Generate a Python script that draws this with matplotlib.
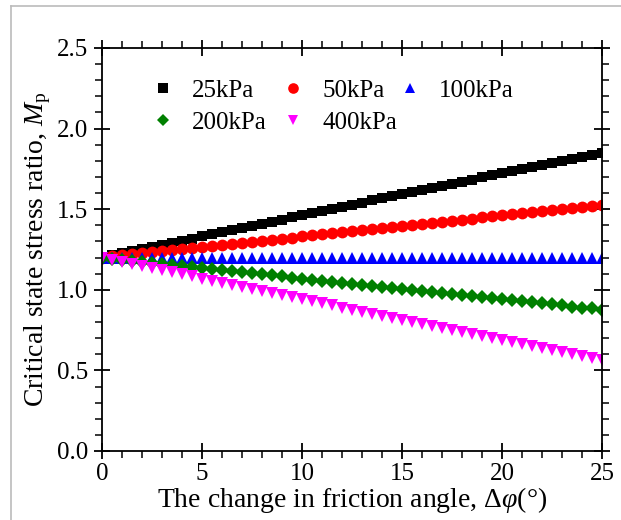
import matplotlib
matplotlib.use("Agg")
import matplotlib.pyplot as plt
from matplotlib.lines import Line2D
from matplotlib.ticker import MultipleLocator

plt.rcParams['font.family'] = ['Liberation Serif', 'DejaVu Serif']
plt.rcParams['mathtext.fontset'] = 'custom'
plt.rcParams['mathtext.rm'] = 'Liberation Serif'
plt.rcParams['mathtext.it'] = 'Liberation Serif:italic'

delta_phi = [i * 0.5 for i in range(51)]

m_25kpa = [1.200, 1.213, 1.226, 1.239, 1.252, 1.265, 1.278, 1.292, 1.305, 1.318,
           1.331, 1.344, 1.357, 1.370, 1.383, 1.396, 1.410, 1.423, 1.436, 1.449,
           1.462, 1.475, 1.488, 1.501, 1.514, 1.527, 1.541, 1.554, 1.567, 1.580,
           1.593, 1.606, 1.619, 1.632, 1.645, 1.658, 1.671, 1.684, 1.697, 1.710,
           1.722, 1.735, 1.748, 1.761, 1.774, 1.787, 1.799, 1.812, 1.825, 1.838,
           1.850]
m_50kpa = [1.200, 1.207, 1.213, 1.220, 1.226, 1.233, 1.239, 1.246, 1.252, 1.259,
           1.265, 1.272, 1.278, 1.285, 1.291, 1.298, 1.305, 1.311, 1.318, 1.324,
           1.331, 1.338, 1.344, 1.351, 1.357, 1.364, 1.370, 1.377, 1.383, 1.390,
           1.396, 1.403, 1.410, 1.416, 1.423, 1.429, 1.436, 1.442, 1.449, 1.455,
           1.462, 1.469, 1.475, 1.482, 1.488, 1.495, 1.501, 1.508, 1.514, 1.521,
           1.527]
m_100kpa = [1.200] * 51
m_200kpa = [1.200, 1.193, 1.187, 1.180, 1.174, 1.167, 1.161, 1.154, 1.148, 1.141,
            1.135, 1.128, 1.122, 1.115, 1.109, 1.102, 1.096, 1.089, 1.083, 1.076,
            1.070, 1.063, 1.057, 1.051, 1.044, 1.038, 1.031, 1.025, 1.018, 1.012,
            1.005, 0.999, 0.992, 0.986, 0.980, 0.973, 0.967, 0.960, 0.954, 0.947,
            0.941, 0.935, 0.928, 0.922, 0.916, 0.909, 0.903, 0.896, 0.890, 0.884,
            0.877]
m_400kpa = [1.200, 1.187, 1.174, 1.161, 1.148, 1.135, 1.122, 1.109, 1.096, 1.083,
            1.070, 1.057, 1.044, 1.031, 1.018, 1.005, 0.992, 0.980, 0.967, 0.954,
            0.941, 0.928, 0.916, 0.903, 0.890, 0.877, 0.865, 0.852, 0.839, 0.827,
            0.814, 0.801, 0.789, 0.776, 0.764, 0.751, 0.739, 0.726, 0.714, 0.701,
            0.689, 0.677, 0.664, 0.652, 0.640, 0.627, 0.615, 0.603, 0.591, 0.579,
            0.567]

labels = ['25kPa', '50kPa', '100kPa', '200kPa', '400kPa']
series = [m_25kpa, m_50kpa, m_100kpa, m_200kpa, m_400kpa]
colors = ['black', 'red', 'blue', 'green', 'magenta']
markers = ['s', 'o', '^', 'D', 'v']
msizes = [7.5, 8.5, 8.5, 7, 8.5]

fig = plt.figure(figsize=(6.21, 5.20), dpi=100)
ax = fig.add_axes([0.1643, 0.1327, 0.8051, 0.7750])

handles = []
for y, lab, c, mk, ms in zip(series, labels, colors, markers, msizes):
    h, = ax.plot(delta_phi, y, linestyle='none', marker=mk, color=c,
                 markersize=ms, markeredgewidth=0, label=lab)
    handles.append(h)

ax.set_xlim(0, 25)
ax.set_ylim(0, 2.5)
ax.xaxis.set_major_locator(MultipleLocator(5))
ax.xaxis.set_minor_locator(MultipleLocator(1))
ax.yaxis.set_major_locator(MultipleLocator(0.5))
ax.yaxis.set_minor_locator(MultipleLocator(0.1))
ax.set_yticks([0, 0.5, 1.0, 1.5, 2.0, 2.5])
ax.set_yticklabels(['0.0', '0.5', '1.0', '1.5', '2.0', '2.5'])

ax.tick_params(which='major', direction='inout', length=12, width=1.3,
               top=True, right=True, labelsize=18)
ax.tick_params(axis='x', which='major', pad=3)
ax.tick_params(axis='y', which='major', pad=4)
ax.tick_params(which='minor', direction='out', length=5, width=1.1,
               top=True, right=True)
for s in ax.spines.values():
    s.set_linewidth(1.3)

ax.set_xlabel(r'The change in friction angle, $\Delta\varphi$(°)', fontsize=20, labelpad=0)
ax.set_ylabel(r'Critical state stress ratio, $M_\mathrm{p}$', fontsize=20, labelpad=3)

# legend laid out row by row: three columns placed individually
legend_columns = [([0, 3], 0.097), ([1, 4], 0.357), ([2], 0.591)]
leg_objs = []
for idxs, xanchor in legend_columns:
    leg = ax.legend([handles[i] for i in idxs], [labels[i] for i in idxs],
                    loc='upper left', bbox_to_anchor=(xanchor, 0.922),
                    frameon=False, fontsize=18, handletextpad=0.66,
                    labelspacing=0.37, handlelength=1.0, borderpad=0,
                    borderaxespad=0, markerscale=0.9)
    leg_objs.append(leg)
for leg in leg_objs[:-1]:
    ax.add_artist(leg)

# gray frame of the screenshot
fig.add_artist(Line2D([11 / 621, 11 / 621], [0, 1 - 6 / 520], color='#bbbbbb',
                      linewidth=1.2, transform=fig.transFigure))
fig.add_artist(Line2D([11 / 621, 1], [1 - 6 / 520, 1 - 6 / 520], color='#bbbbbb',
                      linewidth=1.2, transform=fig.transFigure))

fig.savefig('out.png', dpi=100)
